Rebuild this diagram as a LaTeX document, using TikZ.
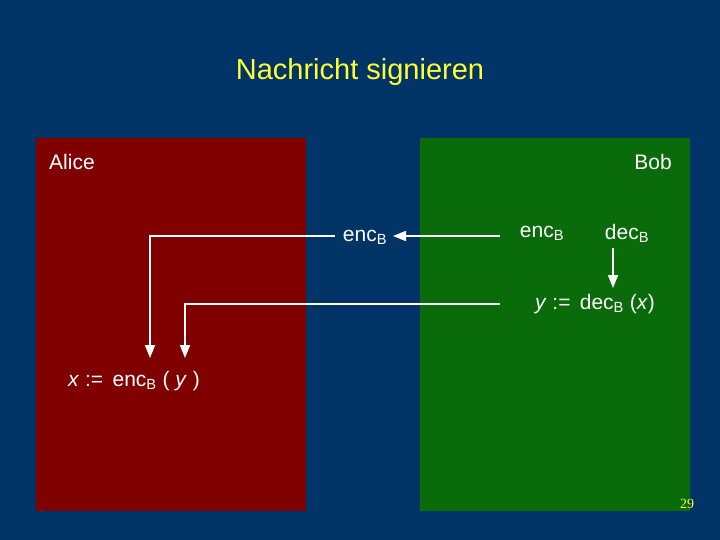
\documentclass[tikz,border=0pt]{standalone}
\usepackage{fontspec}
\setmainfont{Liberation Sans}
\usetikzlibrary{arrows.meta}
\definecolor{bg}{HTML}{003366}
\definecolor{redbox}{HTML}{800000}
\definecolor{greenbox}{HTML}{0A6B0A}
\definecolor{ttl}{HTML}{FFFF33}
\begin{document}
\begin{tikzpicture}[x=1pt,y=-1pt,
  lbl/.style={text=white,font=\fontsize{21}{25}\selectfont,inner sep=0},
  conn/.style={white,line width=1.8pt},
  arr/.style={conn,-{Triangle[length=13pt,width=10pt]}}]
\fill[bg] (0,0) rectangle (720,540);
\useasboundingbox (0,0) rectangle (720,540);
\fill[redbox] (36,138) rectangle (306,511);
\fill[greenbox] (420,138) rectangle (690,511);
\node[text=ttl,font=\fontsize{29}{34}\selectfont] (title) at (360,72) {Nachricht signieren};
\node[lbl] (alice) at (72,162) {Alice};
\node[lbl] (bob) at (653,162) {Bob};
\node[lbl] (encA) at (365,237) {enc\textsubscript{B}};
\node[lbl] (encBob) at (542,233) {enc\textsubscript{B}};
\node[lbl] (decBob) at (627,233) {dec\textsubscript{B}};
\node[lbl] (y) at (595,304) {\textit{y} := \,dec\textsubscript{B} (\textit{x})};
\node[lbl] (x) at (134,381) {\textit{x} := \,enc\textsubscript{B} ( \textit{y} )};
\node[text=ttl,font=\fontsize{14}{16}\selectfont\fontspec{Liberation Serif},inner sep=0] (num) at (687,504) {29};
\coordinate (a1) at (500,236);
\draw[arr] (a1) -- (393,236);
\coordinate (b1) at (335,236);
\draw[arr] (b1) -- (150,236) -- (150,358);
\coordinate (c1) at (500,304);
\draw[arr] (c1) -- (185,304) -- (185,358);
\draw[arr] (613,248) -- (613,288);
\end{tikzpicture}
\end{document}
